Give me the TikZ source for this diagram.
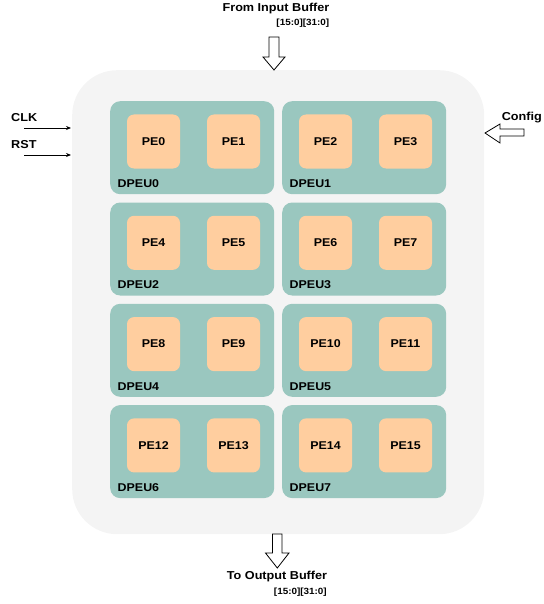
\documentclass[tikz,border=0pt]{standalone}
\usepackage{fontspec}
\setmainfont{Liberation Sans}[FakeStretch=1.1]
\usetikzlibrary{arrows.meta}
\definecolor{outerg}{HTML}{F4F4F4}
\definecolor{teal}{HTML}{9AC7BF}
\definecolor{peor}{HTML}{FFCE9F}
\tikzset{
  dpeu/.style={fill=teal, draw=none, rounded corners=10pt, minimum width=164pt, minimum height=93pt, anchor=north west, inner sep=0pt},
  pe/.style={fill=peor, draw=none, rounded corners=7pt, minimum width=53pt, minimum height=54pt, inner sep=0pt, font=\fontsize{11.3}{13}\selectfont\bfseries},
  dlab/.style={anchor=base west, inner sep=0pt, font=\fontsize{11.3}{13}\selectfont\bfseries},
  sig/.style={inner sep=0pt, font=\fontsize{11.5}{13}\selectfont\bfseries},
  bus/.style={inner sep=0pt, font=\fontsize{9}{10}\selectfont\bfseries},
  thin arrow/.style={-{Stealth[length=5pt,width=4pt]}, line width=0.8pt},
  hollow/.style={draw=black, fill=white, line width=0.8pt, line join=miter}
}
\begin{document}
\begin{tikzpicture}[x=1pt,y=-1pt]
\useasboundingbox (0,0) rectangle (543,604);
\node[fill=outerg, rounded corners=45pt, minimum width=412pt, minimum height=464pt, anchor=north west, inner sep=0pt] (core) at (72,70) {};
% DPEUs
\foreach \r in {0,1,2,3}{
  \foreach \c in {0,1}{
    \pgfmathtruncatemacro{\d}{2*\r+\c}
    \pgfmathsetmacro{\xx}{110+172*\c}
    \pgfmathsetmacro{\yy}{101+101.3*\r}
    \node[dpeu] (dpeu\d) at (\xx,\yy) {};
    \pgfmathtruncatemacro{\pa}{2*\d}
    \pgfmathtruncatemacro{\pb}{2*\d+1}
    \node[pe] (pe\pa) at (\xx+43.5,\yy+40.5) {PE\pa};
    \node[pe] (pe\pb) at (\xx+123.5,\yy+40.5) {PE\pb};
    \node[dlab] (lab\d) at (\xx+7.5,\yy+86.5) {DPEU\d};
  }
}
% top input
\node[sig] (fin) at (276,9) {From Input Buffer};
\node[bus, anchor=east] (finb) at (329.5,23) {[15:0][31:0]};
\draw[hollow] (269,37) -- (279,37) -- (279,57) -- (285,57) -- (274,70) -- (263,57) -- (269,57) -- cycle;
% bottom output
\draw[hollow] (272.5,534) -- (282,534) -- (282,553) -- (289,553) -- (277.3,568) -- (265.5,553) -- (272.5,553) -- cycle;
\node[sig] (tout) at (277,577) {To Output Buffer};
\node[bus, anchor=east] (toutb) at (327,592) {[15:0][31:0]};
% CLK RST
\node[sig, anchor=west] (clk) at (11,118) {CLK};
\node[sig, anchor=west] (rst) at (11,145) {RST};
\coordinate (clkS) at (24,128);
\coordinate (clkE) at (71,128);
\coordinate (rstS) at (24,155);
\coordinate (rstE) at (71,155);
\draw[thin arrow] (clkS) -- (clkE);
\draw[thin arrow] (rstS) -- (rstE);
% Config
\node[sig, anchor=base east] (cfg) at (542,120.7) {Config};
\draw[hollow] (524,129) -- (500,129) -- (500,124) -- (485,133) -- (500,143) -- (500,136) -- (524,136) -- cycle;
\end{tikzpicture}
\end{document}
